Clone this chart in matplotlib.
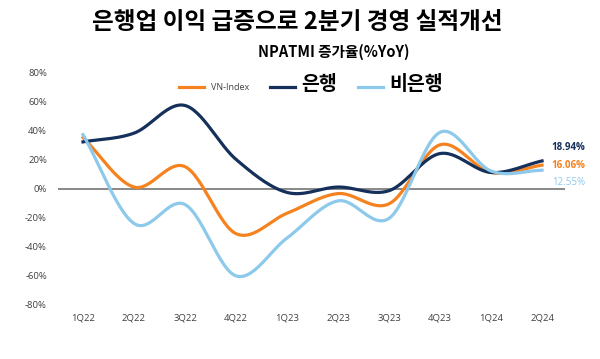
import numpy as np
import matplotlib
matplotlib.use('Agg')
import matplotlib.pyplot as plt

plt.rcParams['font.family'] = ['Noto Sans CJK KR', 'DejaVu Sans']

# quarters and YoY NPATMI growth (%)
quarters = ['1Q22', '2Q22', '3Q22', '4Q22', '1Q23', '2Q23', '3Q23', '4Q23', '1Q24', '2Q24']
vn_index = [35, 1, 15, -31, -17, -3.5, -10.5, 30, 11, 16.06]
bank = [32, 38, 57, 20, -2.7, 1, -1.5, 24, 11, 18.94]
non_bank = [37, -24, -11, -60, -34, -8.5, -20.5, 38.6, 12, 12.55]

c_vn = '#F5821F'
c_bank = '#15305A'
c_non = '#8DC9EA'
latin = ['Open Sans', 'DejaVu Sans']


def smooth(x, y, n=30):
    # catmull-rom, like excel's smoothed line
    x = np.asarray(x, float)
    y = np.asarray(y, float)
    px = np.concatenate([[2 * x[0] - x[1]], x, [2 * x[-1] - x[-2]]])
    py = np.concatenate([[2 * y[0] - y[1]], y, [2 * y[-1] - y[-2]]])
    xs, ys = [], []
    t = np.linspace(0, 1, n)
    for i in range(1, len(px) - 2):
        for p, out in ((px, xs), (py, ys)):
            p0, p1, p2, p3 = p[i - 1], p[i], p[i + 1], p[i + 2]
            out.extend(0.5 * (2 * p1 + (-p0 + p2) * t
                              + (2 * p0 - 5 * p1 + 4 * p2 - p3) * t ** 2
                              + (-p0 + 3 * p1 - 3 * p2 + p3) * t ** 3))
    return np.array(xs), np.array(ys)


fig = plt.figure(figsize=(6, 3.59), dpi=100)
ax = fig.add_axes([58 / 600, 1 - 305 / 359, (565 - 58) / 600, (305 - 72) / 359])

x = np.arange(len(quarters))
ax.axhline(0, color='#7F7F7F', lw=1.3, zorder=1)
h1, = ax.plot(*smooth(x, vn_index), color=c_vn, lw=2.3, label='VN-Index', zorder=3)
h2, = ax.plot(*smooth(x, bank), color=c_bank, lw=2.3, label='은행', zorder=3)
h3, = ax.plot(*smooth(x, non_bank), color=c_non, lw=2.3, label='비은행', zorder=3)

ax.set_xlim(-0.49, 9.45)
ax.set_ylim(-80, 80)
ax.set_yticks(np.arange(-80, 81, 20))
ax.set_yticklabels([f'{v}%' for v in range(-80, 81, 20)], family=latin)
ax.set_xticks(x)
ax.set_xticklabels(quarters, family=latin)
ax.tick_params(axis='both', length=0, labelsize=6.8, labelcolor='#404040')
ax.tick_params(axis='y', pad=8)
ax.tick_params(axis='x', pad=6)
for s in ax.spines.values():
    s.set_visible(False)

# end labels
for val, col, dy, bold in ((bank[-1], c_bank, 10, True),
                           (vn_index[-1], c_vn, 0, True),
                           (non_bank[-1], c_non, -9, False)):
    ax.annotate(f'{val:.2f}%', xy=(9, val), xytext=(7, dy), textcoords='offset points',
                color=col, fontsize=7, fontweight='bold' if bold else 'normal', family=latin,
                va='center', ha='left', annotation_clip=False)

leg = fig.legend(handles=[h1, h2, h3], loc='center', bbox_to_anchor=(311 / 600, 1 - 85 / 359),
                 ncol=3, frameon=False, handlelength=2.8, columnspacing=2.3, handletextpad=0.7,
                 fontsize=6.5)
for t, fs in zip(leg.get_texts(), (6.5, 14, 14)):
    t.set_fontsize(fs)
    if fs > 10:
        t.set_fontweight('bold')
    else:
        t.set_family(latin)
        t.set_color('#404040')

fig.text(297 / 600, 1 - 22 / 359, '은행업 이익 급증으로 2분기 경영 실적개선',
         ha='center', va='center', fontsize=17, fontweight='bold')
fig.text(334 / 600, 1 - 52 / 359, 'NPATMI 증가율(%YoY)',
         ha='center', va='center', fontsize=10.5, fontweight='bold')

fig.savefig('out.png', dpi=100)
